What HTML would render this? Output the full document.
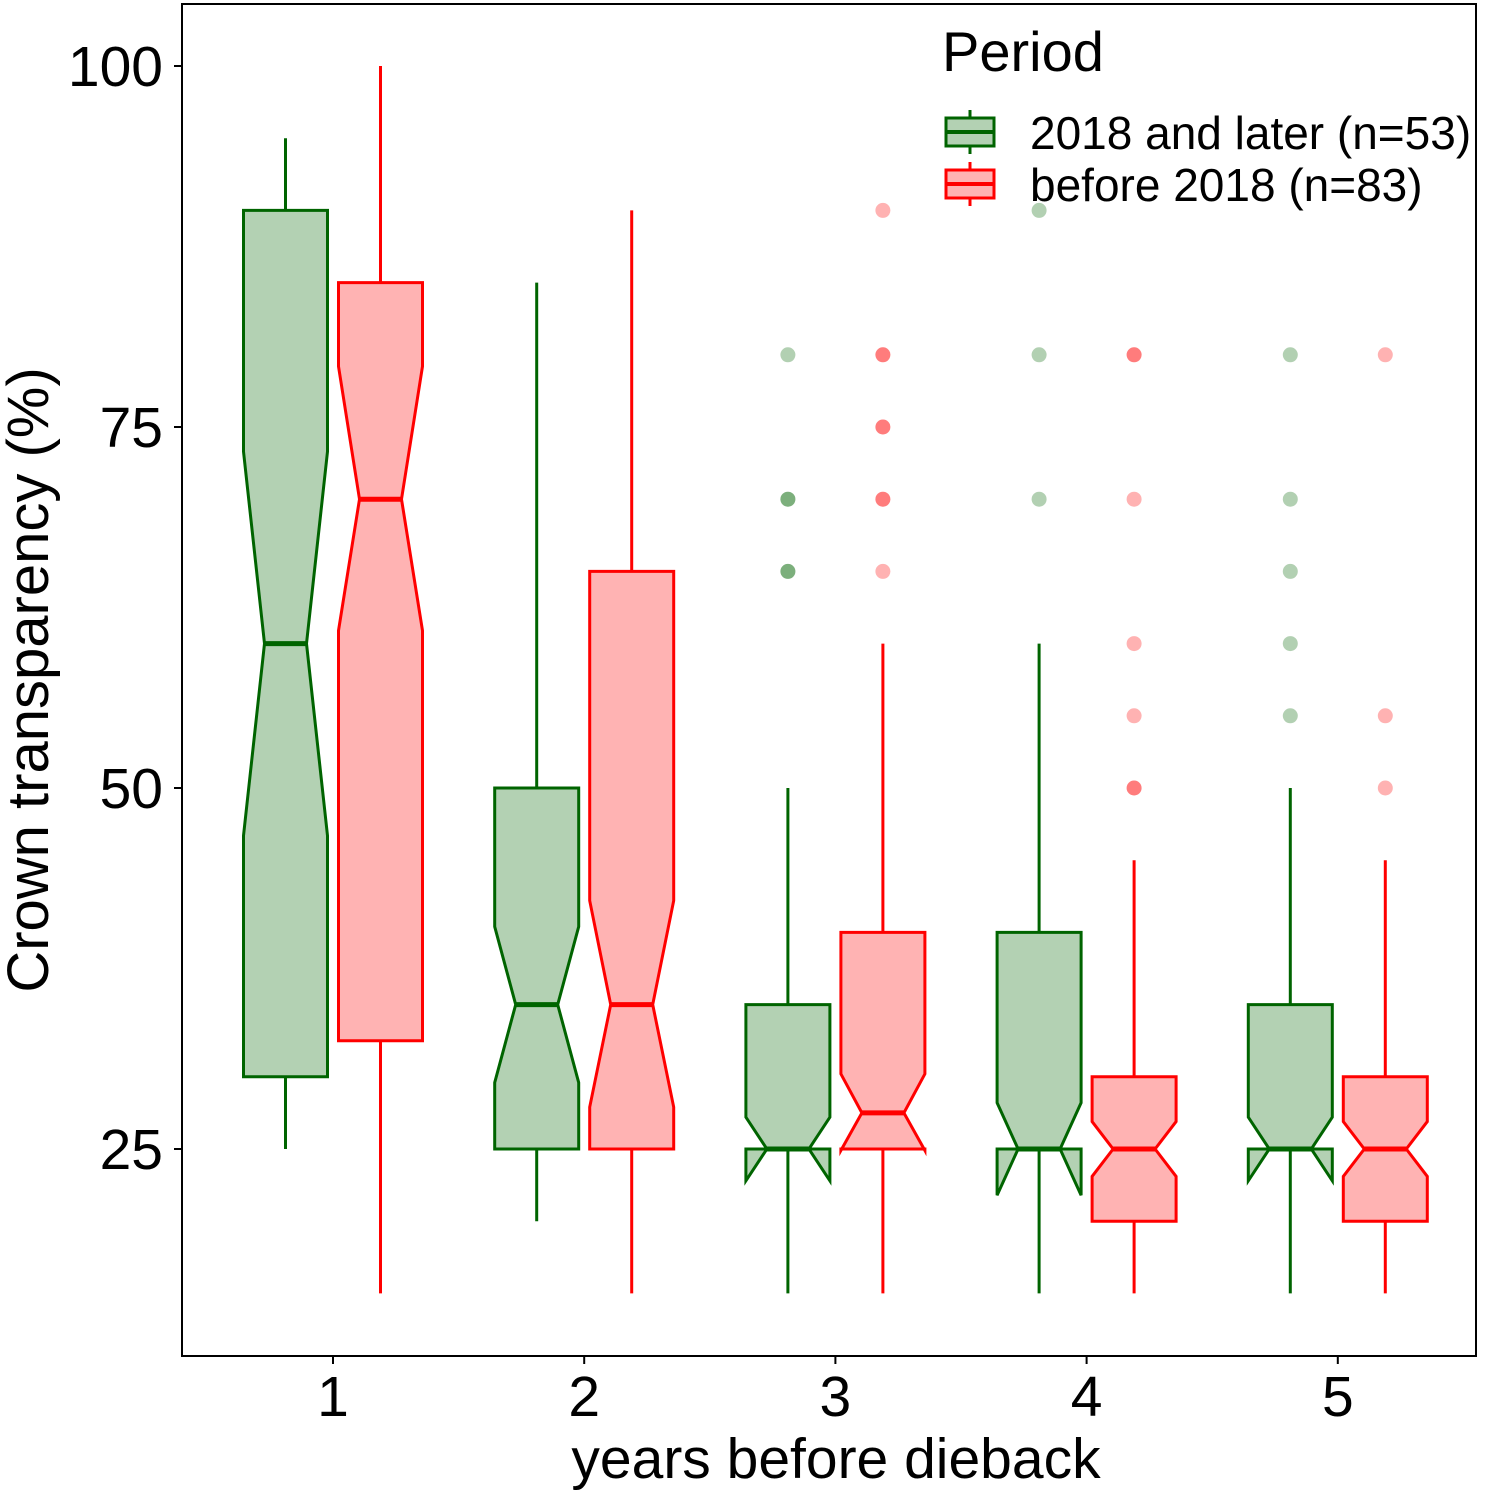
<!DOCTYPE html>
<html><head><meta charset="utf-8"><style>
body{margin:0;background:#fff}
svg text{font-family:"Liberation Sans",Arial,sans-serif}
</style></head><body>
<svg id="chart" width="1496" height="1496" viewBox="0 0 1496 1496" xmlns="http://www.w3.org/2000/svg">
<rect x="0" y="0" width="1496" height="1496" fill="#fff"/>
<g id="marks"></g>
<rect x="182" y="4" width="1294" height="1352" fill="none" stroke="#000" stroke-width="2"/>
<g id="axes"></g>
<text x="836" y="1478" font-size="57" text-anchor="middle">years before dieback</text>
<text transform="translate(48,680) rotate(-90)" font-size="58" text-anchor="middle">Crown transparency (%)</text>
<g>
<text x="942" y="71" font-size="56">Period</text>
<g>
<line x1="970" y1="110" x2="970" y2="154" stroke="#006400" stroke-width="3"/>
<rect x="946" y="118" width="48" height="28" fill="#b3d1b3" stroke="#006400" stroke-width="3"/>
<line x1="946" y1="132" x2="994" y2="132" stroke="#006400" stroke-width="4"/>
<text x="1030" y="149" font-size="46">2018 and later (n=53)</text>
</g>
<g>
<line x1="970" y1="162" x2="970" y2="206" stroke="#ff0000" stroke-width="3"/>
<rect x="946" y="170" width="48" height="28" fill="#ffb3b3" stroke="#ff0000" stroke-width="3"/>
<line x1="946" y1="184" x2="994" y2="184" stroke="#ff0000" stroke-width="4"/>
<text x="1030" y="201" font-size="46">before 2018 (n=83)</text>
</g>
</g>
</svg>
<script>
const categories=[1,2,3,4,5];
const yTicks=[25,50,75,100];
const greenLow=[25,20,15,15,15];
const greenQ1=[30,25,25,25,25];
const greenMed=[60,35,25,25,25];
const greenQ3=[90,50,35,40,35];
const greenHigh=[95,85,50,60,50];
const greenNotchLo=[46.7,29.6,22.8,21.8,22.8];
const greenNotchHi=[73.3,40.4,27.2,28.2,27.2];
const redLow=[15,15,15,15,15];
const redQ1=[32.5,25,25,20,20];
const redMed=[70,35,27.5,25,25];
const redQ3=[85,65,40,30,30];
const redHigh=[100,90,60,45,45];
const redNotchLo=[60.9,27.9,24.9,23.1,23.1];
const redNotchHi=[79.2,42.2,30.2,26.9,26.9];
// outliers: [category, value, count]
const greenOutliers=[[3,80,1],[3,70,2],[3,65,2],[4,90,1],[4,80,1],[4,70,1],[5,80,1],[5,70,1],[5,65,1],[5,60,1],[5,55,1]];
const redOutliers=[[3,90,1],[3,80,2],[3,75,2],[3,70,2],[3,65,1],[4,80,2],[4,70,1],[4,60,1],[4,55,1],[4,50,2],[5,80,1],[5,55,1],[5,50,1]];

const NS="http://www.w3.org/2000/svg";
function y(v){return 788-(v-50)*14.44;}
function x(c){return 333+(c-1)*251.2;}
const half=42;
const marks=document.getElementById('marks');
const axes=document.getElementById('axes');
function mk(tag,attrs,parent){const e=document.createElementNS(NS,tag);for(const k in attrs)e.setAttribute(k,attrs[k]);parent.appendChild(e);return e;}

function drawBox(cx,lo,q1,med,q3,hi,nl,nh,stroke,fill,name){
  const g=mk('g',{},marks);
  
  
  mk('line',{x1:cx,y1:y(q3),x2:cx,y2:y(hi),stroke:stroke,'stroke-width':3},g);
  mk('line',{x1:cx,y1:y(q1),x2:cx,y2:y(lo),stroke:stroke,'stroke-width':3},g);
  const L=cx-half,R=cx+half,iL=cx-half/2,iR=cx+half/2;
  const pts=[[L,y(q3)],[L,y(nh)],[iL,y(med)],[L,y(nl)],[L,y(q1)],[R,y(q1)],[R,y(nl)],[iR,y(med)],[R,y(nh)],[R,y(q3)]];
  mk('polygon',{points:pts.map(p=>p.join(',')).join(' '),fill:fill,stroke:stroke,'stroke-width':3,'stroke-linejoin':'miter'},g);
  mk('line',{x1:iL,y1:y(med),x2:iR,y2:y(med),stroke:stroke,'stroke-width':5},g);
}
categories.forEach((c,i)=>{
  drawBox(x(c)-47.5,greenLow[i],greenQ1[i],greenMed[i],greenQ3[i],greenHigh[i],greenNotchLo[i],greenNotchHi[i],'#006400','#b3d1b3','box-2018-and-later-'+c);
  drawBox(x(c)+47.5,redLow[i],redQ1[i],redMed[i],redQ3[i],redHigh[i],redNotchLo[i],redNotchHi[i],'#ff0000','#ffb3b3','box-before-2018-'+c);
});
function drawOut(list,dx,color,name){
  list.forEach(o=>{
    for(let k=0;k<o[2];k++){
      const e=mk('circle',{cx:x(o[0])+dx,cy:y(o[1]),r:7.5,fill:color,'fill-opacity':0.3},marks);
      
      
    }
  });
}
drawOut(greenOutliers,-47.5,'#006400','outlier-2018-and-later');
drawOut(redOutliers,47.5,'#ff0000','outlier-before-2018');

yTicks.forEach(t=>{
  const l=mk('line',{x1:174,y1:y(t),x2:182,y2:y(t),stroke:'#000','stroke-width':2},axes);
  
  
  const tx=mk('text',{x:163,y:y(t)+20,'font-size':57,'text-anchor':'end'},axes);
  tx.textContent=t;
  
  
});
categories.forEach(c=>{
  const l=mk('line',{x1:x(c),y1:1356,x2:x(c),y2:1364,stroke:'#000','stroke-width':2},axes);
  
  
  const tx=mk('text',{x:x(c),y:1416,'font-size':57,'text-anchor':'middle'},axes);
  tx.textContent=c;
  
  
});
</script>
</body></html>
